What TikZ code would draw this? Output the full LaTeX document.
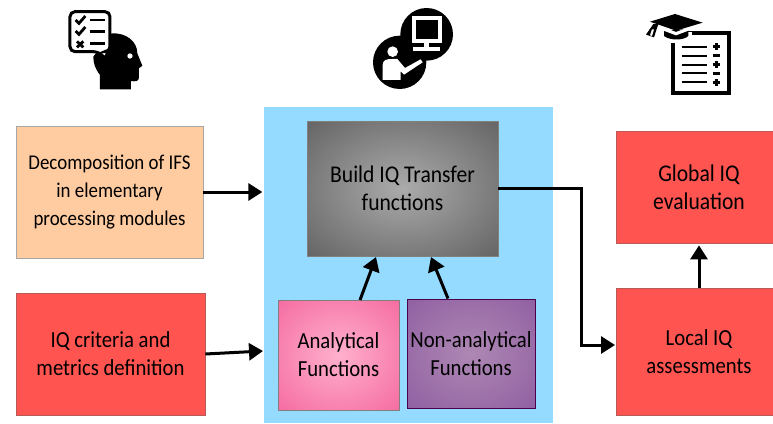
\documentclass[tikz,border=0pt]{standalone}
\usepackage{fontspec}
\setmainfont[FakeStretch=.9]{Carlito}
\usetikzlibrary{arrows.meta}
\definecolor{panelblue}{HTML}{94DBFF}
\definecolor{orangefill}{HTML}{FFCBA0}
\definecolor{redfill}{HTML}{FF5450}
\definecolor{redline}{HTML}{B85A58}
\definecolor{pinkin}{HTML}{FFB0CC}
\definecolor{pinkout}{HTML}{F25A96}
\definecolor{purplein}{HTML}{AE88B4}
\definecolor{purpleout}{HTML}{84509A}
\pgfdeclareradialshading{glowgray}{\pgfpoint{0bp}{0bp}}{color(0bp)=(black!33); color(45bp)=(black!68); color(72bp)=(black!72)}
\pgfdeclareradialshading{glowpink}{\pgfpoint{0bp}{0bp}}{color(0bp)=(pinkin); color(45bp)=(pinkout); color(72bp)=(pinkout)}
\pgfdeclareradialshading{glowpurple}{\pgfpoint{0bp}{0bp}}{color(0bp)=(purplein); color(50bp)=(purpleout); color(72bp)=(purpleout)}
\tikzset{
  block/.style={draw=#1,line width=.7pt,align=center,inner sep=0pt},
  textsize/.style={font=\fontsize{#1}{28}\selectfont},
  flow/.style={line width=3pt,-{Triangle[length=14pt,width=17pt]}},
}
\begin{document}
\begin{tikzpicture}[x=1pt,y=-1pt]
  \useasboundingbox (0,0) rectangle (773,423);
  % left column
  \node[block=black!35,fill=orangefill,textsize=21,minimum width=187pt,minimum height=132pt] (decomp) at (109.5,192) {Decomposition of IFS\\in elementary\\processing modules};
  \node[block=redline,fill=redfill,textsize=23,minimum width=189pt,minimum height=122pt] (criteria) at (110.5,354) {IQ criteria and\\metrics definition};
  % middle panel
  \node[fill=panelblue,minimum width=289pt,minimum height=316pt,inner sep=0pt] (panel) at (408.5,265) {};
  \node[block=black!50,shade,shading=glowgray,textsize=24,minimum width=191pt,minimum height=135pt] (build) at (402.5,188.5) {Build IQ Transfer\\functions};
  \node[block=black!50,shade,shading=glowpink,textsize=23,minimum width=121pt,minimum height=110pt] (analytical) at (338.5,355) {Analytical\\Functions};
  \node[block=violet!60!black,shade,shading=glowpurple,textsize=23,minimum width=128pt,minimum height=109pt] (nonanalytical) at (471,353.5) {Non-analytical\\Functions};
  % right column
  \node[block=redline,fill=redfill,textsize=24,minimum width=166pt,minimum height=112pt] (global) at (699,187) {Global IQ\\evaluation};
  \node[block=redline,fill=redfill,textsize=23,minimum width=166pt,minimum height=127pt] (local) at (699,351.5) {Local IQ\\assessments};
  % connectors
  \coordinate (entry) at (615,345);
  \coordinate (inlet) at (263,351);
  \coordinate (pinktop) at (360,300);
  \coordinate (pinkhit) at (376,257);
  \coordinate (purpletop) at (448,298.5);
  \coordinate (purplehit) at (431,257);
  \draw[flow] (decomp.east) -- ++(59,0);
  \draw[flow] (criteria.east) -- (inlet);
  \draw[flow] (build.east) -- ++(83,0) |- (entry);
  \draw[flow,shorten >=2pt] (local.north) -- (global.south);
  \draw[flow] (pinktop) -- (pinkhit);
  \draw[flow] (purpletop) -- (purplehit);
  % head icon
  \begin{scope}[shift={(30,0)},x=.3333pt,y=-.3333pt]
    \fill (210,268) -- (210,225) .. controls (195,205) and (190,190) .. (190,170) -- (245,100) .. controls (290,98) and (322,125) .. (322,160) -- (337,197) -- (327,205) -- (327,232) .. controls (327,245) and (315,245) .. (303,243) -- (303,268) -- cycle;
    \fill[white] (300,168) circle (8);
    \draw[line width=3pt,fill=white,rounded corners=5pt] (120,35) -- (240,35) -- (240,155) -- (230,155) -- (230,180) -- (205,155) -- (120,155) -- cycle;
    \draw[line width=2.6pt] (180,60) -- (226,60) (180,95) -- (226,95) (180,130) -- (226,130);
    \draw[line width=2.8pt] (137,60) -- (147,70) -- (166,48) (137,93) -- (147,103) -- (166,81);
    \draw[line width=2.8pt] (141,124) -- (160,142) (160,124) -- (141,142);
  \end{scope}
  % teacher icon
  \begin{scope}[shift={(360,0)},x=.3333pt,y=-.3333pt]
    \fill (200,103) circle (79);
    \fill (119,187) circle (80);
    \fill[white] (155,48) rectangle (245,128);
    \fill (167,60) rectangle (233,116);
    \fill[white] (192,128) rectangle (208,142);
    \fill[white] (160,142) rectangle (240,152);
    \fill[white] (98,155) circle (16);
    \fill[white] (68,240) -- (68,195) .. controls (68,180) and (80,177) .. (95,177) -- (112,177) -- (135,204) -- (182,178) -- (188,187) -- (132,224) -- (122,214) -- (122,240) -- cycle;
  \end{scope}
  % grades icon
  \begin{scope}[shift={(630,0)},x=.3333pt,y=-.3333pt]
    \draw[line width=4pt,fill=white] (128,100) rectangle (297,280);
    \fill[white] (100,60) rectangle (185,94);
    \draw[line width=2pt] (155,140) -- (230,140) (155,167) -- (230,167) (155,194) -- (230,194) (155,220) -- (230,220) (155,247) -- (230,247);
    \draw[line width=2.4pt] (248,140) -- (270,140) (259,130) -- (259,150) (248,167) -- (270,167) (248,194) -- (270,194) (259,184) -- (259,204) (248,220) -- (270,220) (248,247) -- (270,247) (259,237) -- (259,257);
    \fill[white] (95,95) rectangle (185,130);
    \fill (102,92) -- (175,87) -- (175,108) .. controls (160,122) and (120,122) .. (102,108) -- cycle;
    \fill[white] (90,78) -- (138,96) -- (186,78) -- (186,88) -- (138,106) -- (90,88) -- cycle;
    \fill (60,65) -- (135,42) -- (218,68) -- (138,92) -- cycle;
    \fill (70,72) -- (85,72) -- (72,112) -- (48,104) -- cycle;
    \fill[white] (66,88) -- (72,88) -- (66,108) -- (60,106) -- cycle;
  \end{scope}
\end{tikzpicture}
\end{document}
